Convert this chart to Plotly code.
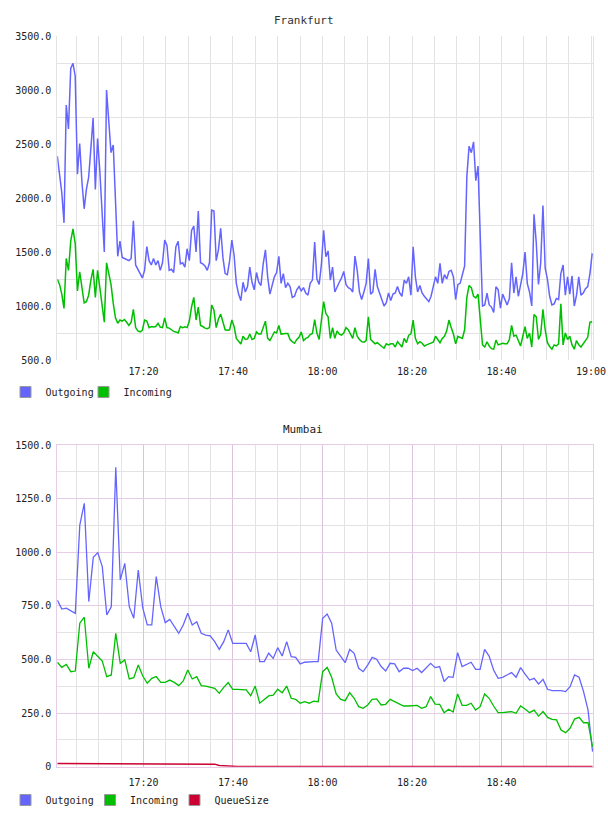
import pandas as pd
import plotly.graph_objects as go

# ---------------- data ----------------
fra_out = [2388, 2197, 2050, 1770, 2860, 2640, 3200, 3246, 3130, 2220,
           2505, 2150, 1900, 2080, 2190, 2460, 2740, 2080, 2550, 2250,
           1890, 1500, 3000, 2720, 2420, 2490, 1965, 1460, 1600, 1450,
           1440, 1430, 1420, 1440, 1790, 1380, 1340, 1290, 1260, 1330,
           1550, 1420, 1380, 1440, 1380, 1420, 1330, 1400, 1610, 1560,
           1330, 1340, 1310, 1550, 1600, 1390, 1400, 1360, 1530, 1420,
           1700, 1740, 1500, 1880, 1400, 1390, 1370, 1330, 1400, 1888,
           1880, 1420, 1520, 1720, 1450, 1300, 1290, 1420, 1610, 1470,
           1210, 1110, 1050, 1220, 1130, 1180, 1360, 1220, 1150, 1310,
           1220, 1190, 1390, 1520, 1270, 1110, 1180, 1270, 1310, 1460,
           1210, 1300, 1170, 1210, 1180, 1080, 1090, 1150, 1180, 1140,
           1170, 1120, 1100, 1210, 1240, 1592, 1250, 1200, 1380, 1700,
           1456, 1510, 1240, 1360, 1130, 1180, 1220, 1260, 1320, 1200,
           1170, 1160, 1130, 1462, 1330, 1130, 1060, 1130, 1210, 1440,
           1110, 1130, 1340, 1180, 1110, 1060, 1000, 1030, 1120, 1050,
           1110, 1120, 1180, 1120, 1090, 1240, 1210, 1270, 1100, 1548,
           1270, 1130, 1190, 1120, 1090, 1060, 1040, 1090, 1180, 1270,
           1210, 1394, 1210, 1290, 1250, 1320, 1330, 1270, 1060,
           1200, 1210, 1300, 1370, 2200, 2480, 2420, 2520, 2160, 2296,
           1640, 1000, 1010, 1120, 1010, 990, 940, 1178, 1150, 980,
           1110, 1050, 1010, 1070, 1400, 1120, 1270, 1090, 1200, 1300,
           1500, 1210, 1130, 1000, 1850, 1590, 1200, 1400, 1930, 1350,
           1250, 1090, 1010, 1020, 1070, 1060, 1300, 1380, 1100, 1270,
           1110, 1280, 1000, 1100, 1270, 1100, 1120, 1160, 1180, 1300,
           1487]

fra_in = [1246, 1200, 1110, 977, 1440, 1330, 1600, 1715, 1580, 1140,
          1317, 1150, 1030, 1040, 1100, 1240, 1340, 1080, 1330, 1170,
          1020, 850, 1400, 1280, 1200, 1024, 890, 840, 870, 860,
          875, 850, 820, 850, 968, 800, 770, 761, 775, 870,
          860, 800, 810, 805, 810, 840, 805, 800, 890, 800,
          795, 780, 765, 760, 750, 810, 800, 808, 800, 860,
          993, 1080, 870, 990, 820, 810, 795, 790, 800, 1010,
          960, 800, 880, 925, 860, 780, 775, 780, 870, 810,
          700, 672, 648, 720, 690, 695, 740, 690, 700, 760,
          740, 740, 810, 860, 700, 680, 720, 760, 750, 820,
          740, 745, 745, 745, 690, 670, 655, 690, 710, 760,
          680, 700, 710, 735, 745, 875, 750, 690, 850, 1040,
          930, 900, 700, 800, 700, 770, 740, 730, 750, 800,
          780, 740, 700, 800, 720, 690, 670, 665, 680, 900,
          690, 670, 650, 660, 640, 625, 610, 650, 640, 650,
          650, 620, 670, 640, 620, 700, 660, 730, 740, 870,
          700, 650, 670, 655, 630, 640, 650, 660, 665, 720,
          690, 660, 700, 720, 770, 870, 800, 740, 650,
          720, 710, 700, 780, 1080, 1190, 1170, 1090, 1075, 1110,
          840, 640, 620, 669, 630, 605, 600, 684, 640, 650,
          655, 650, 650, 690, 820, 720, 730, 680, 630, 720,
          808, 700, 750, 620, 920, 900, 690, 740, 970, 780,
          660, 625, 600, 640, 630, 650, 1020, 640, 750, 690,
          720, 640, 600, 680, 640, 620, 650, 670, 710, 850,
          854]

mum_out = [777, 735, 739, 728, 715, 1127, 1228, 770, 976, 998,
           933, 708, 746, 1396, 871, 948, 746, 692, 917, 740,
           661, 661, 886, 746, 672, 687, 656, 622, 661, 715,
           661, 676, 622, 614, 610, 583, 547, 583, 638, 575,
           575, 575, 575, 536, 614, 490, 490, 529, 505, 555,
           516, 583, 513, 510, 479, 487, 490,
           490, 490, 692, 712, 669, 544, 513, 485, 547, 529,
           459, 443, 474, 510, 501, 467, 446, 482, 479, 443,
           459, 459, 448, 459, 439, 459, 482, 462, 467, 397,
           420, 417, 532, 467, 477, 487, 454, 454, 547, 516,
           451, 412, 417, 428, 439, 417, 462, 432, 404, 412,
           386, 407, 361, 355, 355, 355, 350, 373, 428, 417,
           350, 264, 70]

mum_in = [487, 463, 477, 443, 446, 669, 697, 459, 536, 513,
          493, 420, 428, 622, 482, 498, 409, 415, 474, 423,
          389, 412, 420, 393, 393, 404, 393, 378, 400, 451,
          409, 420, 378, 376, 370, 365, 342, 370, 392, 361,
          361, 361, 358, 331, 376, 296, 311, 330, 334, 361,
          345, 376, 319, 314, 296, 303, 296,
          306, 303, 443, 463, 417, 339, 314, 308, 345, 319,
          280, 272, 288, 314, 316, 288, 291, 314, 303, 291,
          283, 283, 283, 286, 272, 280, 327, 292, 291, 252,
          268, 255, 339, 286, 286, 296, 264, 280, 339, 319,
          283, 252, 252, 255, 257, 249, 283, 269, 252, 264,
          236, 257, 230, 221, 218, 171, 159, 179, 222, 230,
          205, 205, 93]

mum_queue = [15, 15, 15, 15, 15, 15, 15, 15, 15, 15,
             15, 15, 15, 15, 15, 15, 15, 15, 15, 15,
             15, 15, 15, 15, 15, 15, 15, 15, 15, 15,
             15, 15, 15, 15, 15, 12, 6, 4, 3, 2,
             1, 1, 1, 1, 1, 1, 1, 1, 1, 1,
             1, 1, 1, 1, 1, 1, 1, 1, 1, 1,
             1, 1, 1, 1, 1, 1, 1, 1, 1, 1,
             1, 1, 1, 1, 1, 1, 1, 1, 1, 1,
             1, 1, 1, 1, 1, 1, 1, 1, 1, 1,
             1, 1, 1, 1, 1, 1, 1, 1, 1, 1,
             1, 1, 1, 1, 1, 1, 1, 1, 1, 1,
             1, 1, 1, 1, 1, 1, 1, 1, 1, 1]

fra_times = pd.date_range("2024-01-01 17:00:45", periods=len(fra_out), freq="30s")
mum_times = pd.date_range("2024-01-01 17:00:45", "2024-01-01 19:00:20", periods=len(mum_out))

x_tick_labels = ["17:20", "17:40", "18:00", "18:20", "18:40", "19:00"]
fra_y_ticks = [500, 1000, 1500, 2000, 2500, 3000, 3500]
fra_y_labels = ["500.0", "1000.0", "1500.0", "2000.0", "2500.0", "3000.0", "3500.0"]
mum_y_ticks = [0, 250, 500, 750, 1000, 1250, 1500]
mum_y_labels = ["0", "250.0", "500.0", "750.0", "1000.0", "1250.0", "1500.0"]

# ---------------- style ----------------
C_OUT = "#6464ff"
C_IN = "#00bf00"
C_Q = "#cc0033"
GRID = "#e3e3e3"
PURPLE = "#e6cce6"
PURPLE_V = "#dcc2dc"
FONT = "DejaVu Sans Mono"
W, H = 608, 816

day = "2024-01-01 "
x_range = [day + "17:00:45", day + "19:00:30"]
major_x = [day + t for t in x_tick_labels]
minor_all = [t.strftime("%Y-%m-%d %H:%M") for t in
             pd.date_range(day + "17:05", day + "19:00", freq="5min")
             if t.strftime("%H:%M") not in x_tick_labels]
major_x_mum = major_x[:-1]

fig = go.Figure()

# Frankfurt
fig.add_trace(go.Scatter(x=fra_times, y=fra_out, mode="lines", line=dict(color=C_OUT, width=1.5),
                         showlegend=False, xaxis="x", yaxis="y"))
fig.add_trace(go.Scatter(x=fra_times, y=fra_in, mode="lines", line=dict(color=C_IN, width=1.5),
                         showlegend=False, xaxis="x", yaxis="y"))
# Mumbai
fig.add_trace(go.Scatter(x=mum_times, y=mum_out, mode="lines", line=dict(color=C_OUT, width=1.3),
                         showlegend=False, xaxis="x2", yaxis="y2"))
fig.add_trace(go.Scatter(x=mum_times, y=mum_in, mode="lines", line=dict(color=C_IN, width=1.3),
                         showlegend=False, xaxis="x2", yaxis="y2"))
fig.add_trace(go.Scatter(x=mum_times, y=mum_queue, mode="lines", line=dict(color=C_Q, width=1.5),
                         showlegend=False, xaxis="x2", yaxis="y2"))

# legend swatches (one legend box per entry so each can be placed like the original)
def swatch(name, color, legend, xa, ya):
    fig.add_trace(go.Scatter(x=[None], y=[None], mode="markers", name=name,
                             marker=dict(symbol="square", size=11, color=color,
                                         line=dict(color="#9a9a9a", width=1)),
                             legend=legend, xaxis=xa, yaxis=ya, showlegend=True))

swatch("Outgoing", C_OUT, "legend", "x", "y")
swatch("Incoming", C_IN, "legend3", "x", "y")
swatch("Outgoing", C_OUT, "legend2", "x2", "y2")
swatch("Incoming", C_IN, "legend4", "x2", "y2")
swatch("QueueSize", C_Q, "legend5", "x2", "y2")

xdom = [57.3 / W, 593.3 / W]
top_dom = [1 - 360 / H, 1 - 36 / H]
bot_dom = [1 - 766.7 / H, 1 - 445 / H]

tickfont = dict(family=FONT, size=10, color="#222")


def leg(xpx, ypx):
    return dict(orientation="h", x=xpx / W, xanchor="left", y=1 - ypx / H, yanchor="middle",
                font=dict(family=FONT, size=10, color="#222"), bgcolor="rgba(0,0,0,0)",
                itemwidth=30, tracegroupgap=0)


fig.update_layout(
    width=W, height=H,
    margin=dict(l=0, r=0, t=0, b=0, pad=0, autoexpand=False),
    paper_bgcolor="white", plot_bgcolor="white",
    font=dict(family=FONT, size=10, color="#222"),
    xaxis=dict(domain=xdom, anchor="y", type="date", range=x_range,
               tickvals=major_x, ticktext=x_tick_labels, tickfont=tickfont,
               showgrid=True, gridcolor=GRID, gridwidth=1, ticks="",
               ticklabelstandoff=4, zeroline=False, showline=False, automargin=False,
               minor=dict(tickvals=minor_all, showgrid=True, gridcolor=GRID, gridwidth=1, ticks="")),
    yaxis=dict(domain=top_dom, anchor="x", range=[500, 3500],
               tickvals=fra_y_ticks, ticktext=fra_y_labels, tickfont=tickfont,
               showgrid=False, zeroline=False, ticks="", ticklabelstandoff=3, automargin=False,
               showline=True, mirror=True, linecolor=GRID, linewidth=1,
               minor=dict(tickvals=[750, 1250, 1750, 2250, 2750, 3250], showgrid=True,
                          gridcolor=GRID, gridwidth=1, ticks="")),
    xaxis2=dict(domain=xdom, anchor="y2", type="date", range=x_range,
                tickvals=major_x_mum, ticktext=x_tick_labels[:-1], tickfont=tickfont,
                showgrid=True, gridcolor=PURPLE_V, gridwidth=1, ticks="",
                ticklabelstandoff=6, zeroline=False, automargin=False,
                showline=True, mirror=True, linecolor=PURPLE, linewidth=1,
                minor=dict(tickvals=minor_all, showgrid=True, gridcolor=GRID, gridwidth=1, ticks="")),
    yaxis2=dict(domain=bot_dom, anchor="x2", range=[0, 1500],
                tickvals=mum_y_ticks, ticktext=mum_y_labels, tickfont=tickfont,
                showgrid=True, gridcolor=PURPLE, gridwidth=1, zeroline=False, ticks="",
                ticklabelstandoff=3, automargin=False,
                showline=True, mirror=True, linecolor=PURPLE, linewidth=1,
                minor=dict(tickvals=[125, 375, 625, 875, 1125, 1375], showgrid=True,
                           gridcolor=GRID, gridwidth=1, ticks="")),
    legend=leg(5.5, 392),
    legend3=leg(83.5, 392),
    legend2=leg(5.5, 800),
    legend4=leg(90, 800),
    legend5=leg(174.5, 800),
    annotations=[
        dict(text="Frankfurt", xref="paper", yref="paper", x=304 / W, y=1 - 20 / H,
             xanchor="center", yanchor="middle", showarrow=False,
             font=dict(family=FONT, size=11, color="#333")),
        dict(text="Mumbai", xref="paper", yref="paper", x=303 / W, y=1 - 429 / H,
             xanchor="center", yanchor="middle", showarrow=False,
             font=dict(family=FONT, size=11, color="#222")),
    ],
    hovermode=False,
)

fig.write_html("out.html")
